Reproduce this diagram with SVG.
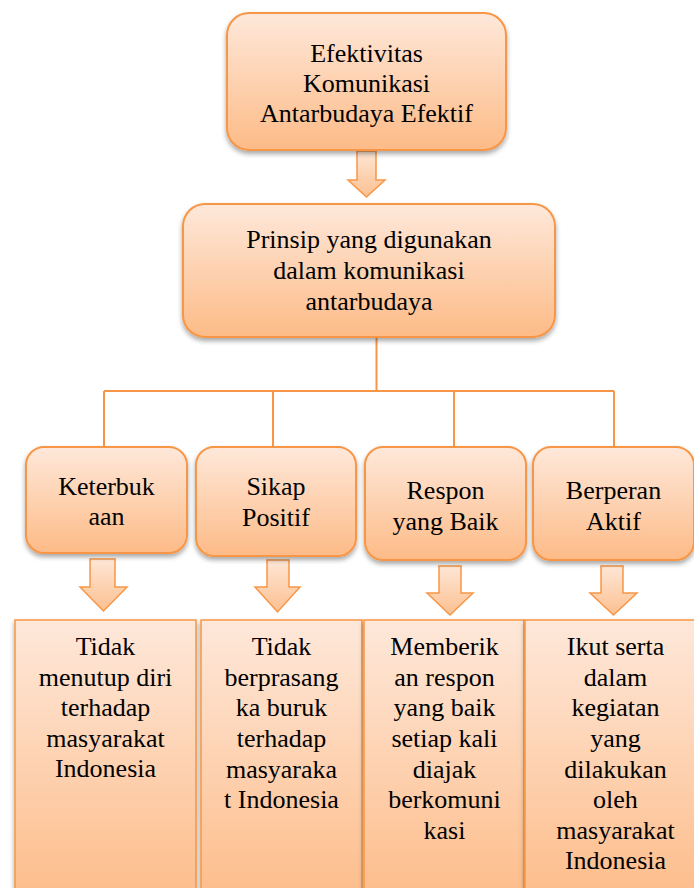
<svg xmlns="http://www.w3.org/2000/svg" width="694" height="888" viewBox="0 0 694 888">
<defs>
<linearGradient id="g" x1="0" y1="0" x2="0" y2="1">
<stop offset="0" stop-color="#fee8da"/>
<stop offset="1" stop-color="#fdbb87"/>
</linearGradient>
<linearGradient id="ga" x1="0" y1="0" x2="0" y2="1">
<stop offset="0" stop-color="#fee6d6"/>
<stop offset="1" stop-color="#fcc090"/>
</linearGradient>
<filter id="sh" x="-10%" y="-10%" width="125%" height="130%">
<feGaussianBlur in="SourceAlpha" stdDeviation="2.5"/>
<feOffset dx="0" dy="3" result="b"/>
<feComponentTransfer><feFuncA type="linear" slope="0.35"/></feComponentTransfer>
<feMerge><feMergeNode/><feMergeNode in="SourceGraphic"/></feMerge>
</filter>
</defs>
<style>
.box{fill:url(#g);stroke:#f79646;stroke-width:2;filter:url(#sh)}
.col{fill:url(#g);stroke:#f79646;stroke-width:1.5;filter:url(#sh)}
.arr{fill:url(#ga);stroke:#f79646;stroke-width:1.5}
.ln{stroke:#f79646;stroke-width:2;fill:none}
.t{font-family:Liberation Serif, DejaVu Serif, serif;font-size:26px;fill:#000;text-anchor:middle}
</style>

<g id="connectors">
<path class="ln" d="M376.5 337 V391 M104 391 H614 M104 391 V447 M273 391 V447 M454 391 V447 M614 391 V447"/>
</g>

<g id="arrows">
<path class="arr" d="M357 151 H376 V180 H385 L366.5 197 L348 180 H357 Z"/>
<path class="arr" d="M90 559 H115 V587 H127 L103.5 611 L80 587 H90 Z"/>
<path class="arr" d="M267 560 H289 V587 H300 L277.5 612 L255 587 H267 Z"/>
<path class="arr" d="M439 566 H461 V593 H473 L450 615 L427 593 H439 Z"/>
<path class="arr" d="M601 566 H623 V593 H637 L613.5 615 L590 593 H601 Z"/>
</g>

<g id="n-top">
<rect class="box" x="227" y="13" width="279" height="137" rx="22"/>
<text class="t" x="366.5" y="62">Efektivitas</text>
<text class="t" x="366.5" y="92">Komunikasi</text>
<text class="t" x="366.5" y="122">Antarbudaya Efektif</text>
</g>

<g id="n-prinsip">
<rect class="box" x="183" y="204" width="372" height="133" rx="22"/>
<text class="t" x="369" y="248">Prinsip yang digunakan</text>
<text class="t" x="369" y="279">dalam komunikasi</text>
<text class="t" x="369" y="310">antarbudaya</text>
</g>

<g id="n-keterbukaan">
<rect class="box" x="26" y="447" width="161" height="106" rx="18"/>
<text class="t" x="106.5" y="495">Keterbuk</text>
<text class="t" x="106.5" y="525">aan</text>
</g>

<g id="n-sikap">
<rect class="box" x="196" y="447" width="160" height="109" rx="18"/>
<text class="t" x="276" y="495">Sikap</text>
<text class="t" x="276" y="526">Positif</text>
</g>

<g id="n-respon">
<rect class="box" x="365" y="447" width="161" height="113" rx="18"/>
<text class="t" x="445.5" y="499">Respon</text>
<text class="t" x="445.5" y="530">yang Baik</text>
</g>

<g id="n-berperan">
<rect class="box" x="533" y="447" width="161" height="113" rx="18"/>
<text class="t" x="613.5" y="499">Berperan</text>
<text class="t" x="613.5" y="530">Aktif</text>
</g>

<g id="n-d1">
<rect class="col" x="15" y="620" width="181" height="290"/>
<text class="t" x="105.5" y="655">Tidak</text>
<text class="t" x="105.5" y="686">menutup diri</text>
<text class="t" x="105.5" y="716">terhadap</text>
<text class="t" x="105.5" y="747">masyarakat</text>
<text class="t" x="105.5" y="777">Indonesia</text>
</g>

<g id="n-d2">
<rect class="col" x="201" y="620" width="161" height="290"/>
<text class="t" x="281.5" y="655">Tidak</text>
<text class="t" x="281.5" y="686">berprasang</text>
<text class="t" x="281.5" y="716">ka buruk</text>
<text class="t" x="281.5" y="747">terhadap</text>
<text class="t" x="281.5" y="778">masyaraka</text>
<text class="t" x="281.5" y="808">t Indonesia</text>
</g>

<g id="n-d3">
<rect class="col" x="364" y="620" width="160" height="290"/>
<text class="t" x="444.5" y="655">Memberik</text>
<text class="t" x="444.5" y="686">an respon</text>
<text class="t" x="444.5" y="716">yang baik</text>
<text class="t" x="444.5" y="747">setiap kali</text>
<text class="t" x="444.5" y="778">diajak</text>
<text class="t" x="444.5" y="808">berkomuni</text>
<text class="t" x="444.5" y="839">kasi</text>
</g>

<g id="n-d4">
<rect class="col" x="525" y="620" width="181" height="290"/>
<text class="t" x="615.5" y="655">Ikut serta</text>
<text class="t" x="615.5" y="686">dalam</text>
<text class="t" x="615.5" y="716">kegiatan</text>
<text class="t" x="615.5" y="747">yang</text>
<text class="t" x="615.5" y="778">dilakukan</text>
<text class="t" x="615.5" y="808">oleh</text>
<text class="t" x="615.5" y="839">masyarakat</text>
<text class="t" x="615.5" y="869">Indonesia</text>
</g>
</svg>
